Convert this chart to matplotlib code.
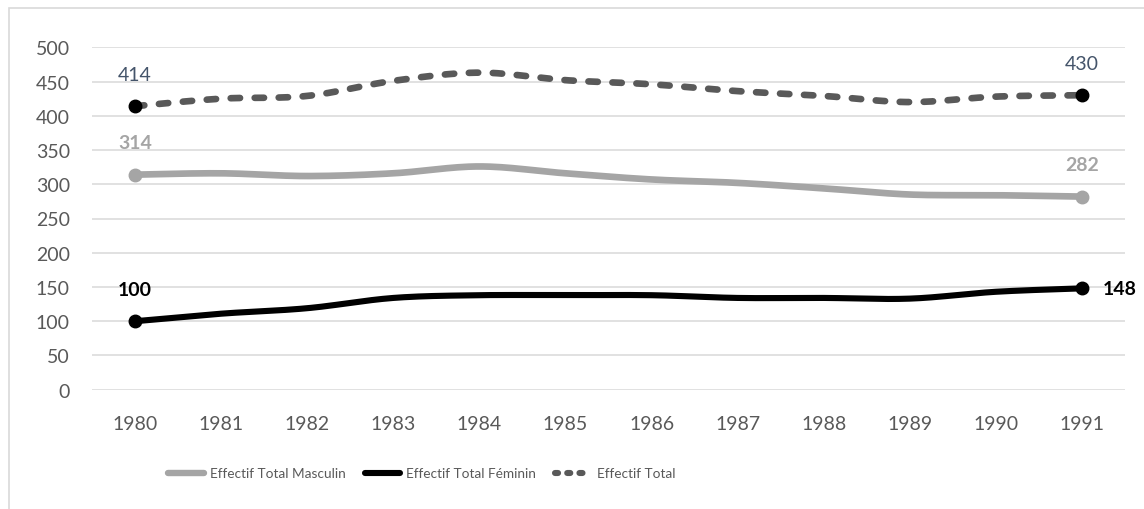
import numpy as np
import matplotlib
matplotlib.use("Agg")
import matplotlib.pyplot as plt
from matplotlib.lines import Line2D
from matplotlib.patches import Rectangle

years = ["1980", "1981", "1982", "1983", "1984", "1985", "1986", "1987", "1988", "1989", "1990", "1991"]
masculin = [314, 316, 312, 316, 326, 316, 307, 302, 294, 285, 284, 282]
feminin = [100, 111, 119, 134, 138, 138, 138, 134, 134, 133, 143, 148]
total = [414, 425, 429, 451, 463, 452, 446, 436, 429, 420, 428, 430]
series_names = ["Effectif Total Masculin", "Effectif Total Féminin", "Effectif Total"]
yticks = [0, 50, 100, 150, 200, 250, 300, 350, 400, 450, 500]

plt.rcParams['font.family'] = ['Lato', 'DejaVu Sans']

W, H = 1144, 510
fig = plt.figure(figsize=(W / 100, H / 100), dpi=100)

# outer chart border
fig.patches.append(Rectangle((8.5 / W, -0.1), 1.2, 1 - 8.5 / H + 0.1, transform=fig.transFigure,
                             fill=False, edgecolor="#d9d9d9", linewidth=1.2))

ax = fig.add_axes([92 / W, 1 - 390.7 / H, (1125 - 92) / W, (390.7 - 48.3) / H])
for s in ax.spines.values():
    s.set_visible(False)
ax.set_ylim(0, 500)
ax.set_xlim(-0.5, len(years) - 0.5)
ax.set_yticks(yticks)
ax.set_xticks(range(len(years)))
ax.set_xticklabels(years)
ax.tick_params(length=0, labelsize=14, labelcolor="#595959")
ax.tick_params(axis='y', pad=16)
ax.tick_params(axis='x', pad=18)
ax.grid(axis='y', color="#d9d9d9", linewidth=1.1)
ax.set_axisbelow(True)


def smooth(xs, ys, n=24):
    pts = np.column_stack([xs, ys]).astype(float)
    out = []
    m = len(pts)
    for i in range(m - 1):
        p0 = pts[i - 1] if i > 0 else pts[i]
        p1 = pts[i]
        p2 = pts[i + 1]
        p3 = pts[i + 2] if i + 2 < m else pts[i + 1]
        c1 = p1 + (p2 - p0) / 6
        c2 = p2 - (p3 - p1) / 6
        t = np.linspace(0, 1, n, endpoint=(i == m - 2))[:, None]
        b = (1 - t) ** 3 * p1 + 3 * (1 - t) ** 2 * t * c1 + 3 * (1 - t) * t ** 2 * c2 + t ** 3 * p2
        out.append(b)
    out = np.vstack(out)
    return out[:, 0], out[:, 1]


x = np.arange(len(years))
c_m, c_f, c_t = "#a5a5a5", "#000000", "#595959"
lw = 4.8
ms = 9

sx, sy = smooth(x, masculin)
ax.plot(sx, sy, color=c_m, lw=lw, solid_capstyle='round', zorder=3)
ax.plot([x[0], x[-1]], [masculin[0], masculin[-1]], 'o', color=c_m, ms=ms, zorder=4)

sx, sy = smooth(x, feminin)
ax.plot(sx, sy, color=c_f, lw=4.4, solid_capstyle='round', zorder=3)
ax.plot([x[0], x[-1]], [feminin[0], feminin[-1]], 'o', color=c_f, ms=ms, zorder=4)

sx, sy = smooth(x, total)
ax.plot(sx, sy, color=c_t, lw=lw, dashes=(1.4, 2.2), dash_capstyle='round', zorder=3)
ax.plot([x[0], x[-1]], [total[0], total[-1]], 'o', color="#000000", ms=ms, zorder=5)

lab_kw = dict(textcoords='offset points', ha='center', va='center', fontsize=14)
for i in (0, len(x) - 1):
    ax.annotate(str(total[i]), (x[i], total[i]), xytext=(0, 23), color="#44546a", **lab_kw)
ax.annotate(str(masculin[0]), (x[0], masculin[0]), xytext=(0, 23), color=c_m, fontweight='bold', **lab_kw)
ax.annotate(str(masculin[-1]), (x[-1], masculin[-1]), xytext=(0, 23), color=c_m, fontweight='bold', **lab_kw)
ax.annotate(str(feminin[0]), (x[0], feminin[0]), xytext=(0, 23), color=c_f, fontweight='bold', **lab_kw)
ax.annotate(str(feminin[-1]), (x[-1], feminin[-1]), xytext=(15, 0), color=c_f, fontweight='bold',
            textcoords='offset points', ha='left', va='center', fontsize=14)

# legend (drawn manually to match the reference spacing)
ly = 1 - 474 / H
leg_items = [
    (168, 204, dict(color=c_m, lw=4.6, solid_capstyle='round'), 210),
    (365, 400, dict(color=c_f, lw=4.4, solid_capstyle='round'), 406),
    (555, 585, dict(color=c_t, lw=4.4, dashes=(0.5, 1.5), dash_capstyle='round'), 597),
]
for (x0, x1, kw, tx), name in zip(leg_items, series_names):
    fig.add_artist(Line2D([x0 / W, x1 / W], [ly, ly], transform=fig.transFigure, **kw))
    fig.text(tx / W, ly, name, ha='left', va='center', fontsize=9.8, color="#595959")

fig.savefig("out.png", dpi=100)
